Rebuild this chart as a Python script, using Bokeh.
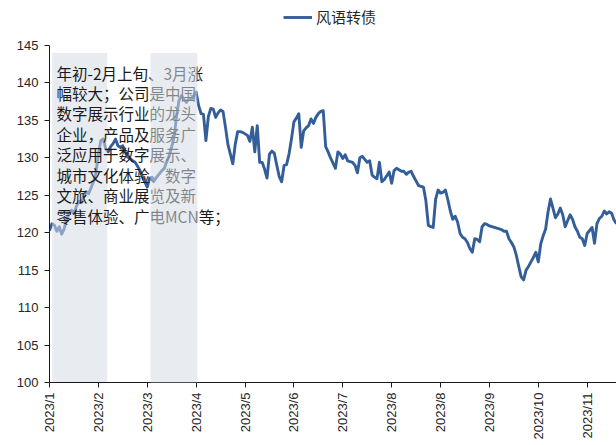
import math
from bokeh.plotting import figure
from bokeh.models import Range1d, FixedTicker, Legend, LegendItem, Label
from bokeh.embed import file_html
from bokeh.resources import INLINE

# ---- data ----
series_name = "风语转债"
values = [
    120.3, 121.2, 121.0, 120.2, 120.8, 119.8, 120.5, 121.8, 122.5, 123.0, 122.6, 123.5,
    124.2, 124.0, 124.8, 125.5, 125.2, 126.0, 126.8, 128.0, 130.5, 132.3, 132.5, 131.2,
    130.8, 131.5, 131.9, 132.5, 131.6, 131.4, 131.6, 130.8, 130.1, 129.9, 129.6, 129.4,
    128.9, 128.3, 127.5, 126.8, 126.1, 127.3, 127.4, 127.0, 127.5, 127.9, 128.3, 128.6,
    129.5, 130.3, 131.5, 132.8, 135.6, 137.7, 138.3, 137.8, 137.4, 137.9, 137.8, 138.3,
    138.8, 137.0, 135.9, 135.8, 132.3, 135.5, 136.6, 136.5, 135.4, 136.0, 136.4, 136.2,
    134.1, 131.8, 130.5, 129.2, 131.8, 133.5, 133.5, 133.4, 133.2, 133.0, 132.2, 134.1,
    130.8, 134.3, 129.4, 129.4, 128.5, 127.3, 130.5, 130.9, 130.6, 129.0, 127.5, 126.8,
    129.0, 129.1, 130.5, 132.5, 134.8, 135.3, 135.9, 131.4, 133.6, 134.0, 134.3, 135.2,
    134.6, 135.4, 135.9, 136.2, 136.3, 131.5, 130.8, 130.0, 129.3, 128.6, 130.8, 130.5,
    129.9, 130.4, 129.6, 129.5, 129.4, 129.0, 128.0, 130.0, 130.2, 129.8, 129.4, 129.6,
    127.7, 127.4, 127.2, 129.4, 126.8, 127.1, 127.6, 128.1, 126.6, 128.3, 128.6, 128.4,
    128.2, 128.2, 127.8, 128.1, 128.2, 127.5, 126.9, 126.3, 126.2, 126.1, 124.3, 121.0,
    120.8, 120.7, 124.5, 125.7, 125.3, 125.4, 125.7, 124.4, 122.9, 121.8, 122.2, 121.4,
    119.9, 119.4, 119.2, 118.7, 117.9, 117.4, 119.2, 119.1, 118.8, 120.8, 121.2, 121.1,
    120.9, 120.8, 120.7, 120.6, 120.5, 120.4, 120.2, 120.2, 119.2, 118.7, 118.1, 117.0,
    115.5, 114.1, 113.7, 115.0, 115.5, 116.1, 116.7, 117.4, 116.1, 118.5, 119.6, 120.5,
    122.8, 124.5, 123.3, 122.0, 122.5, 123.3, 122.4, 120.8, 121.6, 122.4, 121.8, 120.8,
    120.2, 119.4, 119.2, 118.3, 119.9, 120.3, 120.7, 118.6, 121.2, 121.9, 122.2, 122.9,
    122.5, 122.8, 122.6, 121.7, 121.2,
]
x_idx = list(range(len(values)))

tick_pos = [0, 20, 40, 60, 80, 100, 120, 140, 160, 180, 200, 220]
tick_labels = ["2023/1", "2023/2", "2023/3", "2023/4", "2023/5", "2023/6",
               "2023/7", "2023/8", "2023/8", "2023/9", "2023/10", "2023/11"]
y_ticks = [100, 105, 110, 115, 120, 125, 130, 135, 140, 145]
y_min, y_max = 100, 145

# highlighted periods (in x-index units) and their height
shade_left = [1.1, 41.3]
shade_right = [23.6, 60.5]
shade_top = [144, 144]

note_text = ("年初-2月上旬、3月涨\n幅较大；公司是中国\n数字展示行业的龙头\n"
             "企业，产品及服务广\n泛应用于数字展示、\n城市文化体验、数字\n"
             "文旅、商业展览及新\n零售体验、广电MCN等；")

LINE_COLOR = "#335E99"
SHADE_COLOR = "#D5DCE6"
CJK = "Noto Sans CJK SC"
NUM = "Liberation Sans"

# layout (pixels)
W, H = 616, 445
LEFT, TOP, BOTTOM = 49, 5, 63
AXIS_TOP_PX = 45
frame_h = H - TOP - BOTTOM
px_per_unit = (frame_h - (AXIS_TOP_PX - TOP)) / (y_max - y_min)
y_end = y_max + (AXIS_TOP_PX - TOP) / px_per_unit

p = figure(width=W, height=H, output_backend="svg", toolbar_location=None, title=None,
           x_range=Range1d(0, len(values) - 1), y_range=Range1d(y_min, y_end),
           min_border_left=LEFT, min_border_right=0, min_border_top=TOP,
           min_border_bottom=BOTTOM)
p.outline_line_color = None
p.xgrid.visible = False
p.ygrid.visible = False
p.background_fill_color = "white"
p.border_fill_color = "white"

# axes
p.xaxis.ticker = FixedTicker(ticks=tick_pos)
p.xaxis.major_label_overrides = {t: l for t, l in zip(tick_pos, tick_labels)}
p.xaxis.major_label_orientation = math.pi / 2
p.yaxis.ticker = FixedTicker(ticks=y_ticks)
p.yaxis.bounds = (y_min, y_max)
for ax in (p.xaxis, p.yaxis):
    ax.axis_line_color = "#1a1a1a"
    ax.axis_line_width = 1
    ax.major_tick_line_color = "#1a1a1a"
    ax.major_tick_in = 0
    ax.major_tick_out = 5
    ax.minor_tick_line_color = None
    ax.major_label_text_font = NUM
    ax.major_label_text_font_size = "13px"
    ax.major_label_text_color = "#262626"
p.xaxis.major_label_standoff = 5
p.yaxis.major_label_standoff = 6

# series line
r_line = p.line(x_idx, values, line_color=LINE_COLOR, line_width=2.9, line_join="round")

# first shaded period (over the line, under the note)
p.quad(left=shade_left[:1], right=shade_right[:1], bottom=[y_min], top=shade_top[:1],
       fill_color=SHADE_COLOR, fill_alpha=0.55, line_color=None)

# note text
note = Label(x=7, y=frame_h - (61 - TOP), x_units="screen", y_units="screen", text=note_text,
             text_font=CJK, text_font_size="15.5px", text_color="#1a1a1a",
             text_baseline="top", text_align="left", text_line_height=0.93)
p.add_layout(note)

# second shaded period (over the note)
p.quad(left=shade_left[1:], right=shade_right[1:], bottom=[y_min], top=shade_top[1:],
       fill_color=SHADE_COLOR, fill_alpha=0.55, line_color=None, level="overlay")

legend = Legend(items=[LegendItem(label=series_name, renderers=[r_line])],
                location=(283 - LEFT, frame_h - (27 - TOP)), orientation="horizontal",
                padding=0, margin=0, spacing=0,
                glyph_width=29, glyph_height=18, label_height=18, label_standoff=4,
                label_text_font=CJK, label_text_font_size="15px",
                label_text_color="#262626",
                border_line_alpha=0, background_fill_alpha=0)
p.add_layout(legend)

open("out.html", "w").write(file_html(p, INLINE))
